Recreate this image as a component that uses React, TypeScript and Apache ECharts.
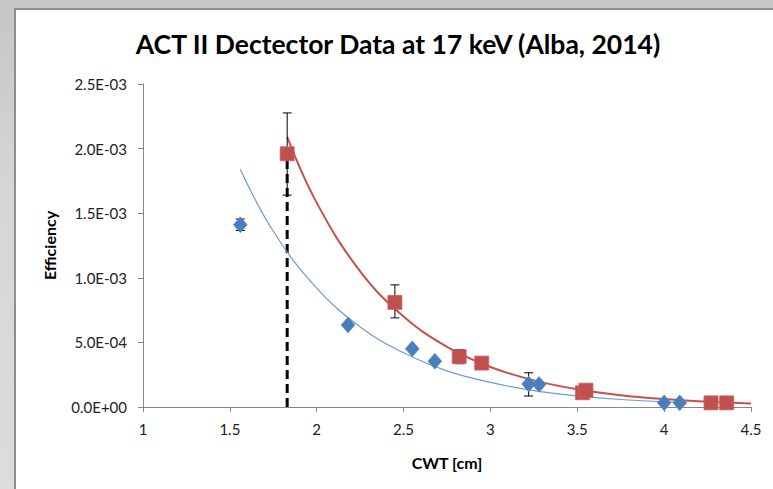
import React, { useEffect, useRef } from "react";
import * as echarts from "echarts";

const titleText = "ACT II Dectector Data at 17 keV (Alba, 2014)";
const xAxisName = "CWT [cm]";
const yAxisName = "Efficiency";

// Blue diamonds
const blueX = [1.56, 2.18, 2.55, 2.68, 3.22, 3.28, 4.0, 4.09];
const blueY = [1.41e-3, 6.35e-4, 4.5e-4, 3.55e-4, 1.78e-4, 1.75e-4, 3.2e-5, 3.2e-5];
// Blue error bars: x, low, high
const blueErrX = [1.56, 3.22];
const blueErrLow = [1.366e-3, 8.5e-5];
const blueErrHigh = [1.455e-3, 2.65e-4];

// Red squares
const redX = [1.83, 2.45, 2.82, 2.95, 3.53, 3.55, 4.27, 4.36];
const redY = [1.96e-3, 8.1e-4, 3.9e-4, 3.4e-4, 1.1e-4, 1.3e-4, 3.2e-5, 3.2e-5];
const redErrX = [1.83, 2.45, 2.82];
const redErrLow = [1.64e-3, 6.9e-4, 3.35e-4];
const redErrHigh = [2.276e-3, 9.45e-4, 4.45e-4];

// Trend lines
const blueTrendX = [1.56, 1.75, 2.0, 2.25, 2.5, 2.75, 3.0, 3.25, 3.5, 3.75, 4.09];
const blueTrendY = [1.84e-3, 1.36e-3, 9.2e-4, 6.2e-4, 4.2e-4, 2.8e-4, 1.9e-4, 1.27e-4, 8.6e-5, 5.8e-5, 3.4e-5];
const redTrendX = [1.83, 2.0, 2.25, 2.5, 2.75, 3.0, 3.25, 3.5, 3.75, 4.0, 4.25, 4.5];
const redTrendY = [2.09e-3, 1.58e-3, 1.05e-3, 7.0e-4, 4.66e-4, 3.1e-4, 2.06e-4, 1.37e-4, 9.1e-5, 6.1e-5, 4.0e-5, 2.7e-5];

// Dashed marker line
const dashX = [1.83, 1.83];
const dashY = [0, 1.92e-3];

const FONT = "Lato, 'Noto Sans', sans-serif";

function fmtExp(v: number): string {
  if (Math.abs(v) < 1e-12) return "0.0E+00";
  const s = v.toExponential(1);
  const [m, e] = s.split("e");
  const n = parseInt(e, 10);
  const sign = n < 0 ? "-" : "+";
  const a = Math.abs(n);
  return m + "E" + sign + (a < 10 ? "0" + a : String(a));
}

function errRender(params: any, api: any) {
  const x = api.value(0);
  const lo = api.coord([x, api.value(1)]);
  const hi = api.coord([x, api.value(2)]);
  const w = 4.5;
  const style = { stroke: "#000", lineWidth: 1 };
  return {
    type: "group",
    children: [
      { type: "line", shape: { x1: hi[0], y1: hi[1], x2: lo[0], y2: lo[1] }, style },
      { type: "line", shape: { x1: hi[0] - w, y1: hi[1], x2: hi[0] + w, y2: hi[1] }, style },
      { type: "line", shape: { x1: lo[0] - w, y1: lo[1], x2: lo[0] + w, y2: lo[1] }, style },
    ],
  };
}

export default function App() {
  const ref = useRef<HTMLDivElement>(null);
  useEffect(() => {
    if (!ref.current) return;
    const chart = echarts.init(ref.current, undefined, { renderer: "svg" });
    const zip = (xs: number[], ys: number[]) => xs.map((x, i) => [x, ys[i]]);
    const zip3 = (xs: number[], a: number[], b: number[]) => xs.map((x, i) => [x, a[i], b[i]]);
    chart.setOption({
      animation: false,
      backgroundColor: "transparent",
      textStyle: { fontFamily: FONT },
      graphic: [
        {
          type: "text",
          x: 398,
          y: 44,
          style: {
            text: titleText,
            font: "bold 26.5px " + FONT,
            fill: "#000",
            textAlign: "center",
            textVerticalAlign: "middle",
          },
        },
      ],
      grid: { left: 143, right: 22, top: 84, bottom: 82, containLabel: false },
      xAxis: {
        type: "value",
        min: 1,
        max: 4.5,
        interval: 0.5,
        name: xAxisName,
        nameLocation: "middle",
        nameGap: 47,
        nameTextStyle: { fontFamily: FONT, fontWeight: "bold", fontSize: 16, color: "#000" },
        splitLine: { show: false },
        axisLine: { show: true, onZero: false, lineStyle: { color: "#868686", width: 1 } },
        axisTick: { show: true, length: 5, lineStyle: { color: "#868686" } },
        axisLabel: { fontFamily: FONT, fontSize: 15, color: "#222", margin: 14 },
      },
      yAxis: {
        type: "value",
        min: 0,
        max: 0.0025,
        interval: 0.0005,
        name: yAxisName,
        nameLocation: "middle",
        nameGap: 86,
        nameTextStyle: { fontFamily: FONT, fontWeight: "bold", fontSize: 16, color: "#000" },
        splitLine: { show: false },
        axisLine: { show: true, lineStyle: { color: "#868686", width: 1 } },
        axisTick: { show: true, length: 5, lineStyle: { color: "#868686" } },
        axisLabel: { fontFamily: FONT, fontSize: 15, color: "#222", margin: 16, formatter: fmtExp },
      },
      series: [
        {
          type: "line",
          data: zip(dashX, dashY),
          showSymbol: false,
          symbol: "none",
          lineStyle: { color: "#000", width: 3, type: [9, 5] },
          z: 1,
          silent: true,
        },
        {
          type: "line",
          data: zip(blueTrendX, blueTrendY),
          smooth: 0.4,
          symbol: "none",
          lineStyle: { color: "#6d9bd6", width: 1.2 },
          z: 2,
        },
        {
          type: "line",
          data: zip(redTrendX, redTrendY),
          smooth: 0.4,
          symbol: "none",
          lineStyle: { color: "#c9504c", width: 2 },
          z: 2,
        },
        {
          type: "custom",
          renderItem: errRender,
          data: zip3(blueErrX, blueErrLow, blueErrHigh),
          z: 3,
          encode: { x: 0, y: [1, 2] },
        },
        {
          type: "custom",
          renderItem: errRender,
          data: zip3(redErrX, redErrLow, redErrHigh),
          z: 3,
          encode: { x: 0, y: [1, 2] },
        },
        {
          type: "scatter",
          data: zip(blueX, blueY),
          symbol: "diamond",
          symbolSize: [14, 16],
          itemStyle: { color: "#4a7ebb", borderColor: "#5b8cc8", borderWidth: 0.5, opacity: 1 },
          z: 4,
        },
        {
          type: "scatter",
          data: zip(redX, redY),
          symbol: "rect",
          symbolSize: 14,
          itemStyle: { color: "#c0504d", borderColor: "#cd6360", borderWidth: 0.8, opacity: 1 },
          z: 4,
        },
      ],
    });
    return () => chart.dispose();
  }, []);

  return (
    <div
      style={{
        position: "fixed",
        left: 0,
        top: 0,
        width: 773,
        height: 489,
        background: "linear-gradient(180deg, #c6c6c6 0%, #d6d6d6 40%, #dcdcdc 100%)",
        overflow: "hidden",
      }}
    >
      <div
        style={{
          position: "absolute",
          left: 14,
          top: 8,
          width: 780,
          height: 500,
          background: "#fff",
          borderLeft: "2px solid #8e8e8e",
          borderTop: "2px solid #8e8e8e",
        }}
      />
      <div ref={ref} style={{ position: "absolute", left: 0, top: 0, width: 773, height: 489 }} />
    </div>
  );
}
